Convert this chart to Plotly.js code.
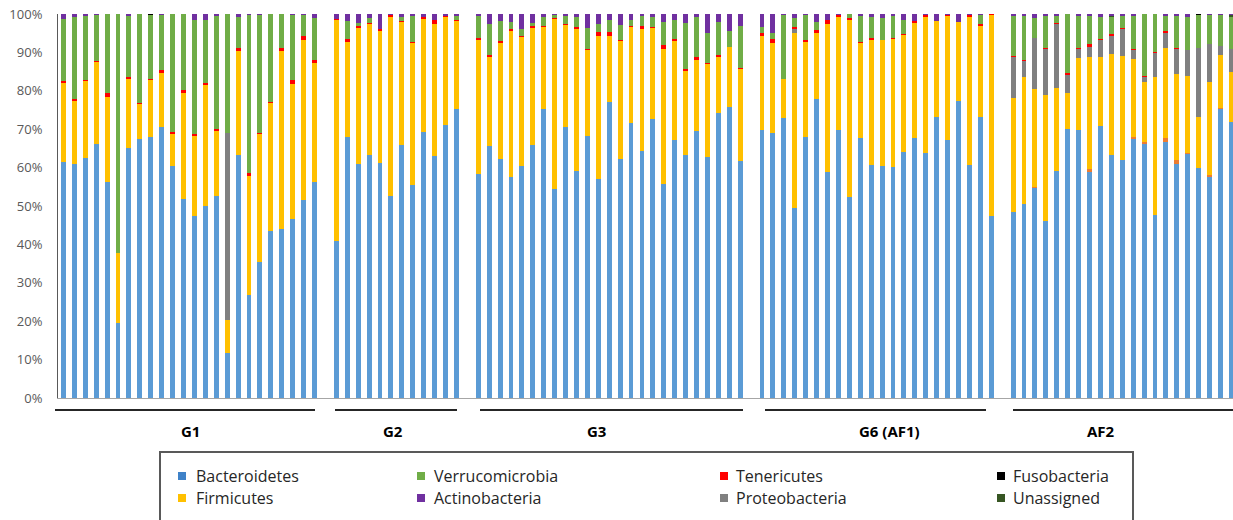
<!DOCTYPE html>
<html><head><meta charset="utf-8">
<script src="https://cdn.plot.ly/plotly-3.0.1.min.js"></script>
<style>html,body{margin:0;padding:0;background:#fff}#chart{width:1233px;height:520px}</style>
</head><body><div id="chart"></div>
<script>
// ---- data (relative abundance, %) ----
const groups = ['G1', 'G2', 'G3', 'G6 (AF1)', 'AF2'];
const groupSizes = [24, 12, 25, 22, 21];

const Bacteroidetes = [
  61.4,60.9,62.6,66.1,56.3,19.6,65.2,67.4,68.0,70.6,60.4,51.7,47.4,50.0,52.6,11.6,63.4,26.8,35.5,43.6,43.9,46.5,51.6,56.3,
  40.8,68.0,60.9,63.4,61.2,52.6,66.0,55.5,69.4,63.1,71.1,75.2,
  58.4,65.5,62.2,57.6,60.4,65.8,75.3,54.4,70.6,59.0,68.3,57.1,77.2,62.3,71.5,64.3,72.7,55.7,67.1,63.2,69.5,62.8,74.1,75.9,61.6,
  69.9,68.9,72.9,49.4,68.0,77.9,58.9,69.9,52.4,67.8,60.8,60.4,60.1,64.1,67.7,63.9,73.1,67.1,77.3,60.8,73.1,47.4,
  48.4,50.5,54.6,46.2,59.0,70.0,69.9,58.9,70.8,63.4,62.0,67.4,66.1,47.7,66.7,60.9,63.6,59.8,57.5,75.2,72.0
];
const Other = [
  0,0,0,0,0,0,0,0,0,0,0,0,0,0,0,0,0,0,0,0,0,0,0,0,
  0,0,0,0,0,0,0,0,0,0,0,0,
  0,0,0,0,0,0,0,0,0,0,0,0,0,0,0,0,0,0,0,0,0,0,0,0,0,
  0,0,0,0,0,0,0,0,0,0,0,0,0,0,0,0,0,0,0,0,0,0,
  0,0,0.4,0,0,0,0,0.8,0,0,0,0.5,0.6,0,1.0,1.1,0.3,0,0.7,0.3,0
];
const Firmicutes = [
  20.7,16.5,19.9,21.3,22.2,18.2,17.8,9.2,14.9,14.1,8.4,27.7,20.9,31.4,16.9,8.7,27.0,31.0,33.2,33.1,46.5,35.4,41.6,30.9,
  57.6,24.8,35.5,34.0,34.5,46.7,31.8,36.9,29.4,34.3,28.0,23.0,
  34.8,23.4,30.3,38.1,33.5,30.5,21.4,44.3,26.6,37.1,22.2,37.3,17.2,30.6,25.0,31.7,23.6,35.1,25.8,22.0,18.5,24.1,14.6,15.6,24.2,
  24.5,23.5,10.2,45.6,24.8,17.1,38.5,29.2,46.0,24.6,32.5,32.9,33.4,30.5,29.9,35.4,25.0,32.4,20.5,38.3,23.9,52.3,
  29.6,33.0,25.4,32.7,21.7,9.3,18.7,29.0,17.9,26.1,27.1,20.3,15.7,36.0,23.4,22.5,20.0,13.3,24.2,13.8,13.0
];
const Proteobacteria = [
  0,0,0,0,0,0,0,0,0,0,0,0,0,0,0,48.6,0,0,0,0,0,0,0,0,
  0,0,0,0,0,0,0,0,0,0,0,0,
  0,0,0,0,0,0,0,0,0,0,0,0,0,0,0,0,0,0,0,0,0,0,0,0,0,
  0,0,0,1.2,0,0,0,0,0,0,0,0,0,0,0,0,0,0,0,0,0,0,
  10.9,4.3,13.4,12.1,16.7,4.9,2.3,2.8,4.5,4.9,7.0,2.4,1.3,6.2,4.0,6.4,6.6,18.1,9.8,2.4,5.8
];
const Tenericutes = [
  0.4,0.4,0.3,0.3,0.8,0,0.5,0.2,0.3,0.7,0.4,0.8,0.5,0.7,0.5,0,0.8,0.9,0.4,0.5,0.7,0.9,1.2,0.9,
  0.4,0.7,0.5,0.3,0.5,0.4,0.3,0.2,0.3,1.0,0.4,0.3,
  0.6,0.4,0.4,0.4,0.5,0.6,0.3,0.3,0.3,0.4,0.5,1.0,0.9,0.4,0.5,1.0,0.4,1.1,0.5,0.4,0.7,0.3,0.6,0,0.2,
  0.6,1.0,0,0.3,0.4,0.8,1.0,0.6,0.6,0.3,0.5,0,0.3,0.3,0.5,0.4,0.2,0.2,0.2,0.6,0.3,0.3,
  0.2,0.3,0,0.2,0.3,0.4,0.2,0.6,0.3,0.3,0.3,0.3,0.2,0.3,0.4,0.3,0.1,0,0,0,0
];
const Verrucomicrobia = [
  16.2,21.5,16.8,12.0,20.7,62.2,16.1,23.2,16.5,14.3,30.8,19.8,29.7,16.4,29.5,31.1,8.1,41.0,30.7,22.7,18.7,16.9,5.3,10.9,
  0,4.6,0.7,1.3,0,0,1.0,6.9,0,0,0,1.0,
  5.7,8.1,5.2,1.8,1.8,0.7,2.3,0.7,2.0,2.6,5.3,2.0,3.2,3.8,1.4,2.5,2.6,6.1,5.0,12.1,10.4,7.8,8.7,4.0,11.0,
  1.5,1.7,16.6,2.5,6.5,2.0,0,0,1.0,6.9,5.3,5.7,5.7,3.6,0,0,0,0,0,0,2.4,0,
  10.4,11.5,5.2,8.3,1.8,15.4,8.5,7.5,5.8,4.6,3.1,8.7,16.1,9.8,4.1,8.4,8.7,8.5,7.5,8.0,8.5
];
const Unassigned = [
  0,0,0,0,0,0,0,0,0,0,0,0,0,0,0,0,0,0,0,0,0,0,0,0,
  0,0,0,0,0,0,0,0,0,0,0,0,
  0,0,0,0,0,0,0,0,0,0,0,0,0,0,0,0,0,0,0,0,0,0,0,0,0,
  0,0,0,0,0,0,0,0,0,0,0,0,0,0,0,0,0,0,0,0,0,0,
  0,0,0,0,0,0,0,0,0,0.3,0,0,0,0,0,0,0,0,0,0,0.4
];
const Fusobacteria = [
  0,0,0,0,0,0,0,0,0.3,0,0,0,0,0,0,0,0,0,0,0,0,0,0,0,
  0,0,0,0,0,0,0,0,0,0,0,0,
  0,0,0,0,0,0,0,0,0,0,0,0,0,0,0,0,0,0,0,0,0,0,0,0,0,
  0,0,0,0,0,0,0,0,0,0,0,0,0,0,0,0,0,0,0,0,0,0,
  0,0,0,0,0,0,0,0,0,0,0,0,0,0,0,0,0,0.3,0,0,0
];
const Actinobacteria = [
  1.3,0.7,0.4,0.3,0,0,0.4,0,0,0.3,0,0,1.5,1.5,0.5,0,0.7,0.3,0.2,0.1,0.2,0.3,0.3,1.0,
  1.2,1.9,2.4,1.0,3.8,0.3,0.9,0.5,0.9,1.6,0.5,0.5,
  0.5,2.6,1.9,2.1,3.8,2.4,0.7,0.3,0.5,0.9,3.7,2.6,1.5,2.9,1.6,0.5,0.7,2.0,1.6,2.3,0.9,5.0,2.0,4.5,3.0,
  3.5,4.9,0.3,1.0,0.3,2.2,1.6,0.3,0,0.4,0.9,1.0,0.5,1.5,1.9,0.3,1.7,0.3,2.0,0.3,0.3,0,
  0.5,0.4,1.0,0.5,0.5,0,0.4,0.4,0.7,0.4,0.5,0.4,0,0,0.4,0.4,0.7,0,0.3,0.3,0.3
];
const yTickVals = [0,10,20,30,40,50,60,70,80,90,100];
const yTickText = ['0%','10%','20%','30%','40%','50%','60%','70%','80%','90%','100%'];

// legend layout (column-major, as in the reference)
const legendCols = [['Bacteroidetes','Firmicutes'],['Verrucomicrobia','Actinobacteria'],['Tenericutes','Proteobacteria'],['Fusobacteria','Unassigned']];

// ---- styles ----
const colors = {
  Bacteroidetes:'#5B9BD5', Other:'#ED7D31', Firmicutes:'#FFC000', Proteobacteria:'#808080',
  Tenericutes:'#FF0000', Verrucomicrobia:'#70AD47', Unassigned:'#375623', Fusobacteria:'#000000',
  Actinobacteria:'#7030A0'
};
const legendColors = Object.assign({}, colors, {Bacteroidetes:'#3F82C8'});
const series = {Bacteroidetes, Other, Firmicutes, Proteobacteria, Tenericutes, Verrucomicrobia, Unassigned, Fusobacteria, Actinobacteria};

// categories, with one empty slot between groups
const samples = [], catOrder = [];
groups.forEach((g, gi) => {
  if (gi > 0) catOrder.push('gap' + gi);
  for (let i = 1; i <= groupSizes[gi]; i++) { const n = g + ' #' + i; samples.push(n); catOrder.push(n); }
});

const traces = Object.keys(series).map(name => ({
  type:'bar', name, x:samples, y:series[name],
  marker:{color:colors[name], line:{width:0}}, showlegend:false,
  hovertemplate:'%{x}<br>'+name+': %{y}%<extra></extra>'
}));

// geometry helpers (pixel -> paper)
const L = 58, W = 1175, T = 14, H = 384;
const px = v => (v - L) / W;
const py = v => (T + H - v) / H;

const shapes = [], annotations = [];
const fontFam = '"Open Sans", "Liberation Sans", Arial, sans-serif';
// group brackets
const groupLines = [[55,315],[335,457],[480,743],[765,986],[1013,1240]];
const groupLabelX = [190,393,596,889,1101];
groups.forEach((g, i) => {
  shapes.push({type:'line', xref:'paper', yref:'paper', x0:px(groupLines[i][0]), x1:px(groupLines[i][1]), y0:py(410), y1:py(410), line:{color:'#262626', width:2}});
  annotations.push({xref:'paper', yref:'paper', x:px(groupLabelX[i]), y:py(431), text:'<b>'+g+'</b>', showarrow:false, xanchor:'center', yanchor:'middle', font:{family:fontFam, size:15, color:'#000'}});
});
// legend box
shapes.push({type:'rect', xref:'paper', yref:'paper', x0:px(160), x1:px(1133), y0:py(452), y1:py(560), line:{color:'#595959', width:2}, fillcolor:'rgba(0,0,0,0)'});
const colSq = [178, 417, 720, 997], colTx = [194, 432, 734, 1011], rowY = [476, 498];
legendCols.forEach((col, ci) => col.forEach((name, ri) => {
  shapes.push({type:'rect', xref:'paper', yref:'paper', x0:px(colSq[ci]), x1:px(colSq[ci]+8), y0:py(rowY[ri]-4), y1:py(rowY[ri]+4), line:{width:0}, fillcolor:legendColors[name]});
  annotations.push({xref:'paper', yref:'paper', x:px(colTx[ci]), y:py(rowY[ri]), text:name, showarrow:false, xanchor:'left', yanchor:'middle', font:{family:fontFam, size:16, color:'#262626'}});
}));

const layout = {
  width:1233, height:520, margin:{l:L, r:0, t:T, b:520-T-H},
  paper_bgcolor:'#fff', plot_bgcolor:'#fff',
  barmode:'stack', bargap:0.55,
  font:{family:fontFam},
  xaxis:{type:'category', categoryorder:'array', categoryarray:catOrder, range:[-0.5, 107.15],
    showticklabels:false, ticks:'', showgrid:false, zeroline:false, showline:true, linecolor:'#a6a6a6', linewidth:1, fixedrange:true},
  yaxis:{range:[0,100], tickvals:yTickVals, ticktext:yTickText, showgrid:false, zeroline:false,
    showline:true, linecolor:'#595959', linewidth:1, ticks:'', ticklabelstandoff:12,
    tickfont:{family:fontFam, size:13, color:'#595959'}, fixedrange:true},
  shapes, annotations, showlegend:false
};
Plotly.newPlot('chart', traces, layout, {displayModeBar:false, staticPlot:true});
</script></body></html>
